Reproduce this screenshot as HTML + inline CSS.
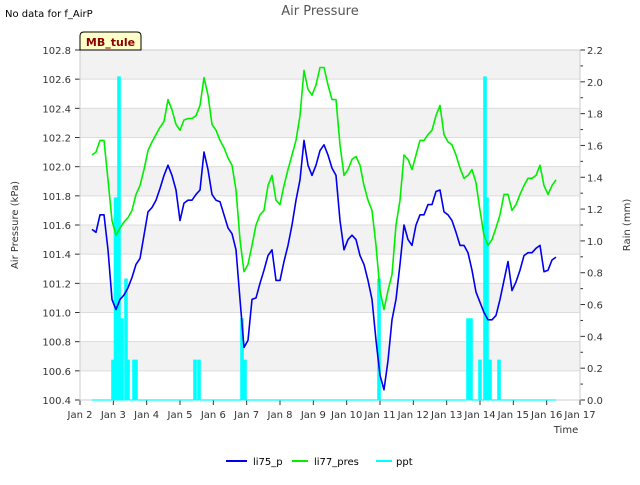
<!DOCTYPE html>
<html><head><meta charset="utf-8"><style>
body{margin:0;background:#fff;font-family:"Liberation Sans","DejaVu Sans",sans-serif}
</style></head><body>
<svg id="c" width="640" height="480" xmlns="http://www.w3.org/2000/svg" font-family="DejaVu Sans, Liberation Sans, sans-serif">
<rect width="640" height="480" fill="#fff"/>
<g id="bands"></g><g id="grid"></g><g id="axes"></g><g id="series"></g>
<text x="5" y="17" font-size="10" fill="#000">No data for f_AirP</text>
<text x="320" y="15" font-size="13" fill="#555" text-anchor="middle">Air Pressure</text>
<g><path d="M80,50 L80,36 Q80,32 84,32 L137,32 Q141,32 141,36 L141,50 Z" fill="#ffffc8" stroke="#000" stroke-width="1"/>
<text x="110.5" y="46" font-size="11" font-weight="bold" fill="#8b0000" text-anchor="middle">MB_tule</text></g>
<text transform="translate(18,225) rotate(-90)" font-size="10" fill="#333" text-anchor="middle">Air Pressure (kPa)</text>
<text transform="translate(630,225) rotate(-90)" font-size="10" fill="#333" text-anchor="middle">Rain (mm)</text>
<text x="566" y="433" font-size="10" fill="#333" text-anchor="middle">Time</text>
<g font-size="10">
<g><line x1="226" y1="461" x2="247" y2="461" stroke="#0000ee" stroke-width="2"/><text x="253" y="465">li75_p</text></g>
<g><line x1="292" y1="461" x2="308" y2="461" stroke="#00ee00" stroke-width="2"/><text x="314" y="465">li77_pres</text></g>
<g><line x1="376" y1="461" x2="392" y2="461" stroke="#00ffff" stroke-width="2"/><text x="396" y="465">ppt</text></g>
</g>
</svg>
<script>
const tStart = 2.36, tStep = 0.12;
const li75 = [101.57,101.55,101.67,101.67,101.43,101.09,101.02,101.09,101.12,101.17,101.24,101.33,101.37,101.53,101.69,101.72,101.77,101.85,101.94,102.01,101.94,101.84,101.63,101.75,101.77,101.77,101.81,101.84,102.10,101.98,101.81,101.77,101.76,101.67,101.58,101.54,101.43,101.09,100.76,100.81,101.09,101.10,101.20,101.29,101.39,101.43,101.22,101.22,101.35,101.46,101.60,101.77,101.91,102.18,102.01,101.94,102.01,102.11,102.15,102.08,101.99,101.94,101.63,101.43,101.50,101.53,101.50,101.39,101.33,101.22,101.09,100.81,100.57,100.47,100.67,100.95,101.09,101.33,101.60,101.50,101.46,101.60,101.67,101.67,101.74,101.74,101.83,101.84,101.69,101.67,101.63,101.55,101.46,101.46,101.41,101.29,101.14,101.07,101.00,100.95,100.95,100.98,101.09,101.22,101.35,101.15,101.21,101.29,101.39,101.41,101.41,101.44,101.46,101.28,101.29,101.36,101.38];
const li77 = [102.08,102.10,102.18,102.18,101.91,101.63,101.53,101.58,101.62,101.65,101.70,101.81,101.87,101.98,102.11,102.17,102.22,102.27,102.31,102.46,102.39,102.29,102.25,102.32,102.33,102.33,102.35,102.42,102.61,102.49,102.29,102.25,102.18,102.13,102.06,102.01,101.84,101.50,101.28,101.33,101.46,101.60,101.67,101.70,101.87,101.94,101.77,101.74,101.87,101.98,102.08,102.18,102.35,102.66,102.53,102.49,102.56,102.68,102.68,102.56,102.46,102.46,102.15,101.94,101.98,102.05,102.07,102.01,101.87,101.77,101.70,101.46,101.15,101.02,101.15,101.26,101.60,101.77,102.08,102.05,101.98,102.08,102.18,102.18,102.22,102.25,102.35,102.42,102.22,102.17,102.15,102.08,101.99,101.92,101.94,101.98,101.89,101.70,101.53,101.46,101.50,101.58,101.67,101.81,101.81,101.70,101.74,101.81,101.87,101.92,101.92,101.94,102.01,101.87,101.81,101.87,101.91];
const pptT = [2.99,3.065,3.17,3.215,3.26,3.38,3.44,3.62,3.68,5.45,5.57,6.86,6.95,10.97,13.64,13.73,14.0,14.15,14.21,14.30,14.57];
const pptV = [0.25,1.27,2.03,0.51,0.51,0.76,0.25,0.25,0.25,0.25,0.25,0.51,0.25,0.76,0.51,0.51,0.25,2.03,1.27,0.25,0.25];
const xTicks = ["Jan 2","Jan 3","Jan 4","Jan 5","Jan 6","Jan 7","Jan 8","Jan 9","Jan 10","Jan 11","Jan 12","Jan 13","Jan 14","Jan 15","Jan 16","Jan 17"];
const yTicks = ["100.4","100.6","100.8","101.0","101.2","101.4","101.6","101.8","102.0","102.2","102.4","102.6","102.8"];
const y2Ticks = ["0.0","0.2","0.4","0.6","0.8","1.0","1.2","1.4","1.6","1.8","2.0","2.2"];

const L=80,R=580,T=50,B=400;
const X=d=>L+(d-2)/15*(R-L);
const Y=v=>B-(v-100.4)/2.4*(B-T);
const Y2=v=>B-v/2.2*(B-T);
const NS="http://www.w3.org/2000/svg";
function mk(tag,attrs,parent){const e=document.createElementNS(NS,tag);for(const k in attrs)e.setAttribute(k,attrs[k]);document.getElementById(parent).appendChild(e);return e;}

for(let i=0;i<12;i++){
  const v0=100.4+i*0.2;
  if(i%2===1){const b=mk('rect',{x:L,y:Y(v0+0.2),width:R-L,height:Y(v0)-Y(v0+0.2),fill:'#f2f2f2'},'bands');
  
  }
}
yTicks.forEach((t,i)=>{const y=Y(parseFloat(t));
  const g=mk('line',{x1:L,x2:R,y1:y,y2:y,stroke:'#dcdcdc','stroke-width':1},'grid');
  
  
  const tx=mk('text',{x:L-9,y:y+4,'font-size':10,'text-anchor':'end',fill:'#333'},'axes');tx.textContent=t;
  
  
  mk('line',{x1:L-5,x2:L,y1:y,y2:y,stroke:'#333'},'axes');
});
y2Ticks.forEach((t,i)=>{const y=Y2(parseFloat(t));
  mk('line',{x1:R,x2:R+5,y1:y,y2:y,stroke:'#333'},'axes');
  if(i<11){const ym=Y2(parseFloat(t)+0.1);mk('line',{x1:R,x2:R+3,y1:ym,y2:ym,stroke:'#333'},'axes');}
  const tx=mk('text',{x:R+7,y:y+4,'font-size':10,fill:'#333'},'axes');tx.textContent=t;
  
  
});
xTicks.forEach((t,i)=>{const x=X(2+i);
  mk('line',{x1:x,x2:x,y1:B,y2:B+5,stroke:'#333'},'axes');
  const tx=mk('text',{x:x,y:B+18,'font-size':10,'text-anchor':'middle',fill:'#333'},'axes');tx.textContent=t;
  
  
});
const fr=mk('rect',{x:L,y:T,width:R-L,height:B-T,fill:'none',stroke:'#ccc'},'axes');



function line(vals,color,name){
  const pts=vals.map((v,i)=>X(tStart+i*tStep).toFixed(1)+','+Y(v).toFixed(1)).join(' ');
  const p=mk('polyline',{points:pts,fill:'none',stroke:color,'stroke-width':1.6,'stroke-linejoin':'round'},'series');
  
  
}
// ppt
let d='M'+X(tStart).toFixed(1)+','+Y2(0).toFixed(1);
pptT.forEach((t,i)=>{const x=X(t);d+=' L'+(x-1.2).toFixed(1)+','+Y2(0)+' L'+(x-1.2).toFixed(1)+','+Y2(pptV[i]).toFixed(1)+' L'+(x+1.2).toFixed(1)+','+Y2(pptV[i]).toFixed(1)+' L'+(x+1.2).toFixed(1)+','+Y2(0);});
d+=' L'+X(tStart+(li75.length-1)*tStep).toFixed(1)+','+Y2(0);
const pp=mk('path',{d:d,fill:'#00ffff',stroke:'#00ffff','stroke-width':1.2},'series');


line(li77,'#00ee00','li77-pres-line');
line(li75,'#0000ee','li75-p-line');
</script>
</body></html>
